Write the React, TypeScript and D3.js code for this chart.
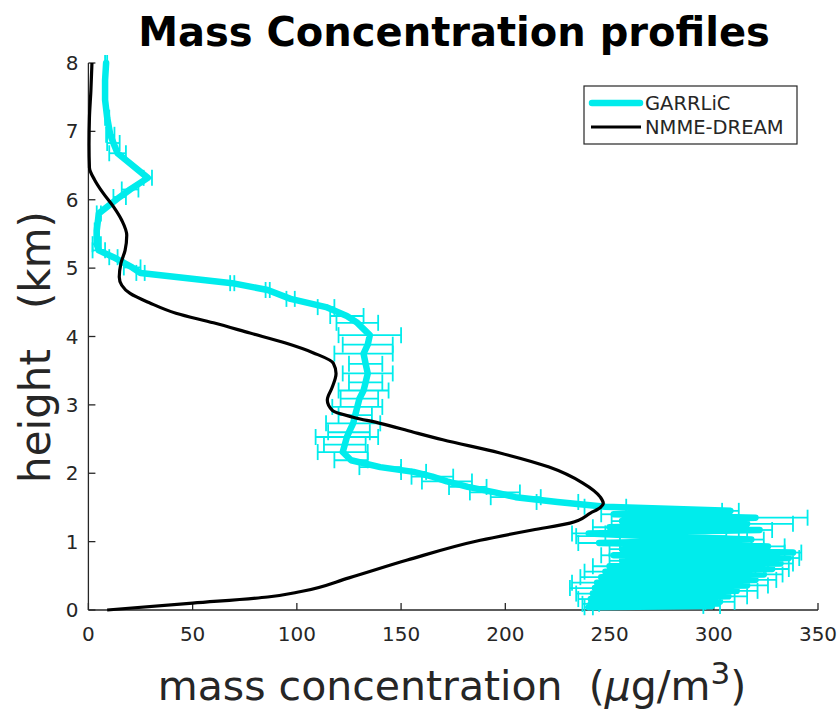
import React from "react";
import * as d3 from "d3";

// GARRLiC retrieval (height km, concentration µg/m³, horizontal error)
const garrHeight = [
  8.0, 7.75, 7.46, 7.2, 6.95, 6.83, 6.68, 6.32, 6.15, 6.04, 5.8, 5.55, 5.35, 5.26, 5.16, 5.01, 4.93,
  4.78, 4.68, 4.55, 4.43, 4.3, 4.2, 4.02, 3.88, 3.75, 3.6, 3.46, 3.33, 3.21, 3.09, 2.97, 2.85, 2.73,
  2.6, 2.53, 2.42, 2.31, 2.19, 2.09, 2.02, 1.95, 1.88, 1.8, 1.72, 1.65, 1.58, 1.51,
  1.45, 1.4, 1.35, 1.3, 1.26, 1.21, 1.17, 1.12, 1.08, 1.03, 0.98, 0.93, 0.89, 0.84, 0.8, 0.76,
  0.72, 0.68, 0.64, 0.6, 0.56, 0.52, 0.48, 0.44, 0.4, 0.36, 0.32, 0.28, 0.24, 0.2, 0.16, 0.12,
  0.09, 0.06, 0.04,
];
const garrValue = [
  8.5, 8, 8, 9, 10.5, 12, 14, 28.5, 20, 15, 5, 4, 4, 5, 12, 21, 25,
  69, 86, 97, 114, 124, 129, 135, 134, 132, 133, 134, 133, 132, 130, 129, 128, 127,
  125, 124, 123, 122, 126, 140, 156, 165, 172, 182, 195, 205, 225, 248,
  308, 252, 320, 256, 316, 250, 322, 240, 270, 318, 245, 326, 256, 338, 252, 336,
  256, 332, 250, 328, 248, 324, 246, 320, 244, 316, 243, 311, 242, 307, 241, 303,
  241, 299, 240,
];
const garrError = [
  0.5, 0.5, 0.5, 1, 2, 3, 4, 2, 4, 3, 1, 1, 2, 3, 2, 4, 2,
  1, 1, 2, 4, 8, 10, 15, 12, 14, 8, 12, 8, 12, 9, 12, 8, 13,
  10, 15, 10, 12, 8, 10, 6, 10, 12, 9, 12, 12, 10, 10,
  4, 6, 25, 5, 22, 8, 6, 8, 36, 6, 10, 8, 6, 4, 6, 5,
  6, 6, 8, 8, 10, 9, 10, 10, 12, 10, 12, 10, 8, 9, 6, 7,
  4, 4, 2,
];

// NMME-DREAM model profile
const dreamHeight = [
  0, 0.1, 0.19, 0.27, 0.47, 0.73, 1.02, 1.17, 1.27, 1.42, 1.5, 1.56, 1.65, 1.86, 2.09, 2.3, 2.49,
  2.6, 2.73, 2.82, 2.92, 3.07, 3.26, 3.46, 3.61, 3.76, 3.9, 4.05, 4.2, 4.34, 4.49, 4.63, 4.75,
  4.87, 5.07, 5.26, 5.48, 5.7, 5.9, 6.1, 6.29, 6.47, 6.8, 7.2, 7.6, 8.0,
];
const dreamValue = [
  9, 50, 86, 102, 125, 153, 188, 213, 231, 241, 245.6, 247, 245.6, 237, 221, 197, 170,
  156, 140, 127, 117, 114.6, 117, 118.8, 117.5, 108, 95, 77.5, 60, 42, 29.5, 20, 16,
  14.8, 15.6, 17.6, 18.4, 16, 12, 7, 3, 0.5, 0.3, 0.5, 1.2, 1.7,
];

const xTicks = [0, 50, 100, 150, 200, 250, 300, 350];
const yTicks = [0, 1, 2, 3, 4, 5, 6, 7, 8];

const W = 840;
const H = 711;
const left = 88.4;
const right = 818;
const top = 63;
const bottom = 610;

const CYAN = "#00ecec";
const AXIS = "#262626";
const FONT = "'DejaVu Sans', sans-serif";

export default function App() {
  const x = d3.scaleLinear().domain([0, 350]).range([left, right]);
  const y = d3.scaleLinear().domain([0, 8]).range([bottom, top]);

  const garr = garrHeight.map((h, i) => ({ h, v: garrValue[i], e: garrError[i] }));
  const dream = dreamHeight.map((h, i) => ({ h, v: dreamValue[i] }));

  const garrLine = d3
    .line<{ h: number; v: number }>()
    .x((d) => x(d.v))
    .y((d) => y(d.h));
  const dreamLine = d3
    .line<{ h: number; v: number }>()
    .x((d) => x(d.v))
    .y((d) => y(d.h))
    .curve(d3.curveMonotoneY);

  const cap = 8;

  return (
    <svg
      width={W}
      height={H}
      style={{ position: "absolute", left: 0, top: 0, background: "#fff" }}
      fontFamily={FONT}
    >
      {/* title */}
      <text x={454} y={46} textAnchor="middle" fontSize={40} fontWeight="bold" fill="#000">
        Mass Concentration profiles
      </text>

      {/* axes */}
      <g stroke={AXIS} strokeWidth={1.3} fill="none">
        <line x1={left} x2={right} y1={bottom} y2={bottom} />
        <line x1={left} x2={left} y1={bottom} y2={top} />
        {xTicks.map((t) => (
          <line key={t} x1={x(t)} x2={x(t)} y1={bottom} y2={bottom - 7} />
        ))}
        {yTicks.map((t) => (
          <line key={t} x1={left} x2={left + 7} y1={y(t)} y2={y(t)} />
        ))}
      </g>
      <g fontSize={20} fill={AXIS}>
        {xTicks.map((t) => (
          <text key={t} x={x(t)} y={641} textAnchor="middle">
            {t}
          </text>
        ))}
        {yTicks.map((t) => (
          <text key={t} x={left - 10} y={y(t) + 7} textAnchor="end">
            {t}
          </text>
        ))}
      </g>

      {/* axis labels */}
      <text x={452} y={700} textAnchor="middle" fontSize={41} fill={AXIS}>
        mass concentration{"\u00a0\u00a0"}(
        <tspan fontStyle="italic">μ</tspan>g/m
        <tspan dy={-16} fontSize={31}>3</tspan>
        <tspan dy={16}>)</tspan>
      </text>
      <text
        transform={`translate(50,347) rotate(-90)`}
        textAnchor="middle"
        fontSize={42}
        fill={AXIS}
      >
        height{"\u00a0\u00a0\u00a0"}(km)
      </text>

      {/* GARRLiC error bars */}
      <g stroke={CYAN} strokeWidth={1.8} fill="none">
        {garr.map((d, i) => (
          <g key={i}>
            <line x1={x(d.v - d.e)} x2={x(d.v + d.e)} y1={y(d.h)} y2={y(d.h)} />
            <line x1={x(d.v - d.e)} x2={x(d.v - d.e)} y1={y(d.h) - cap} y2={y(d.h) + cap} />
            <line x1={x(d.v + d.e)} x2={x(d.v + d.e)} y1={y(d.h) - cap} y2={y(d.h) + cap} />
          </g>
        ))}
      </g>
      <path
        d={garrLine(garr) || ""}
        fill="none"
        stroke={CYAN}
        strokeWidth={6.5}
        strokeLinejoin="round"
        strokeLinecap="round"
      />

      {/* NMME-DREAM */}
      <path d={dreamLine(dream) || ""} fill="none" stroke="#000" strokeWidth={3.2} />

      {/* legend */}
      <rect x={584} y={86} width={213} height={58} fill="#fff" stroke={AXIS} strokeWidth={1.2} />
      <line x1={592} x2={640} y1={103} y2={103} stroke={CYAN} strokeWidth={6.5} strokeLinecap="round" />
      <line x1={591} x2={641} y1={127} y2={127} stroke="#000" strokeWidth={3.2} />
      <g fontSize={19.5} fill={AXIS}>
        <text x={645} y={110}>GARRLiC</text>
        <text x={645} y={134}>NMME-DREAM</text>
      </g>
    </svg>
  );
}
